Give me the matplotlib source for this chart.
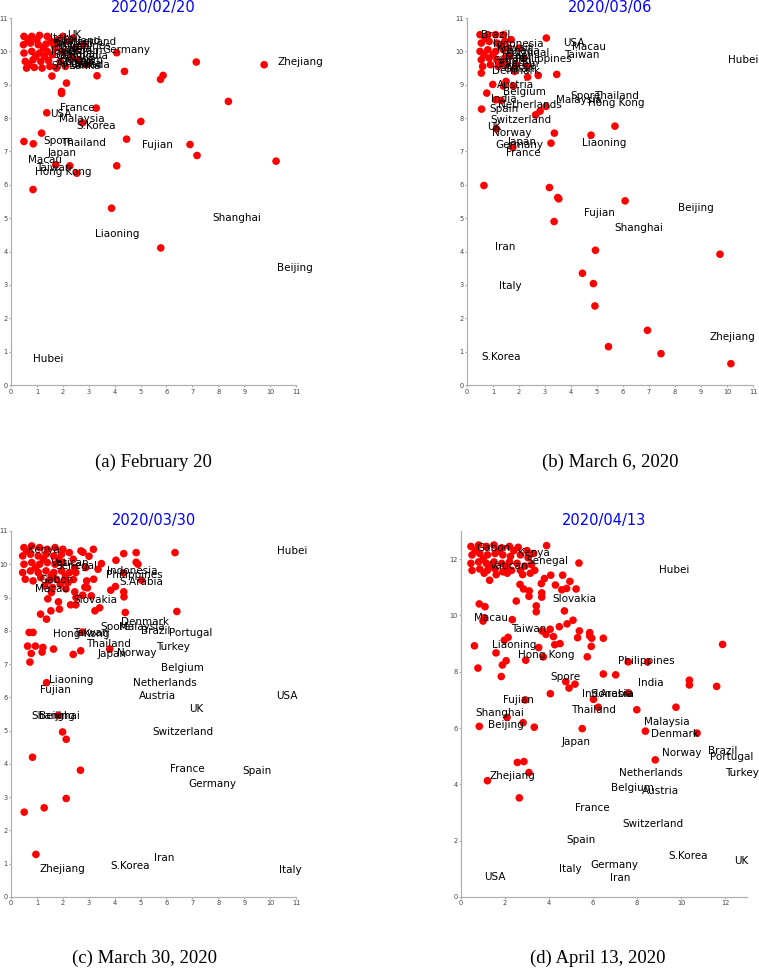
import matplotlib
matplotlib.use('Agg')
import matplotlib.pyplot as plt
from matplotlib import font_manager

# --- fonts ---
names = set(f.name for f in font_manager.fontManager.ttflist)
if 'Liberation Sans Narrow' in names:
    LAB_FONT = 'Liberation Sans Narrow'
    LAB_SIZE = 9.5
else:
    LAB_FONT = 'DejaVu Sans'
    LAB_SIZE = 7.5
CAP_FONT = 'Liberation Serif'

# ---------------- (a) 2020/02/20 ----------------
a_x = [0.5, 0.8, 1.1, 1.4, 0.48, 0.75, 1.05, 1.35, 1.55, 0.5, 0.8, 1.1, 1.4, 0.55,
       0.85, 1.15, 1.45, 0.6, 0.9, 1.2, 1.5, 0.65, 0.95, 1.25, 0.7, 1.3, 1.0, 1.6,
       1.7, 1.8, 1.9, 2.0, 2.2, 2.3, 2.5, 1.75, 2.1, 2.6, 2.9, 2.4, 2.8, 2.0, 1.65,
       4.08, 7.15, 9.77, 4.38, 1.58, 3.32, 5.77, 5.87, 2.14, 1.95, 1.95, 8.39, 3.29,
       1.38, 5.01, 2.76, 1.18, 4.46, 0.5, 0.86, 6.91, 7.18, 10.23, 4.08, 2.27, 1.73,
       2.54, 0.85, 3.88, 5.78]
a_y = [10.45, 10.45, 10.48, 10.45, 10.2, 10.25, 10.2, 10.22, 10.3, 9.95, 10.0, 9.95,
       10.0, 9.7, 9.75, 9.7, 9.72, 9.5, 9.52, 9.5, 9.55, 10.35, 9.85, 10.1, 9.6, 9.85,
       10.35, 9.9, 10.1, 10.35, 9.7, 10.0, 10.3, 9.8, 10.1, 9.5, 9.55, 9.75, 9.6,
       10.4, 10.2, 10.45, 10.2,
       9.96, 9.68, 9.60, 9.40, 9.26, 9.27, 9.16, 9.28, 9.05, 8.80, 8.74, 8.50, 8.30,
       8.16, 7.90, 7.86, 7.55, 7.37, 7.30, 7.23, 7.21, 6.88, 6.71, 6.57, 6.57, 6.60,
       6.35, 5.86, 5.30, 4.11]
a_names = ['UK', 'Switzerland', 'Philippines', 'Germany', 'Italy', 'Finland', 'Sweden',
           'Russia', 'India', 'Nepal', 'Canada', 'Cambodia', 'Belgium', 'Egypt', 'UAE',
           'Sri Lanka', 'Australia', 'Vietnam', 'Spain', 'Iran',
           'Zhejiang', 'France', 'USA', 'Malaysia', 'S.Korea', 'Spore', 'Thailand',
           'Fujian', 'Japan', 'Macau', 'Taiwan', 'Hong Kong', 'Shanghai', 'Liaoning',
           'Beijing', 'Hubei']
a_lx = [2.18, 1.72, 1.65, 3.53, 1.5, 2.0, 1.6, 1.8, 1.55, 2.2, 2.3, 1.7, 1.9, 2.1, 2.4,
        1.6, 1.75, 1.9, 1.65, 2.25,
        10.3, 1.9, 1.51, 1.86, 2.54, 1.26, 1.92, 5.06, 1.41, 0.64, 0.96, 0.94, 7.77,
        3.24, 10.26, 0.83]
a_ly = [10.5, 10.28, 10.15, 10.05, 10.4, 10.32, 10.22, 10.08, 9.98, 9.92, 9.6, 9.85,
        9.75, 9.68, 9.72, 9.55, 9.62, 10.0, 9.9, 10.12,
        9.68, 8.31, 8.13, 7.97, 7.75, 7.30, 7.25, 7.20, 6.95, 6.73, 6.51, 6.40, 5.01,
        4.54, 3.51, 0.79]

# ---------------- (b) 2020/03/06 ----------------
b_x = [0.5, 0.8, 1.1, 1.4, 0.55, 0.85, 1.15, 1.45, 0.5, 0.8, 1.1, 1.4, 0.55, 0.85,
       1.15, 1.45, 0.6, 0.9, 1.2, 1.5, 0.7, 1.0, 1.3, 0.65, 1.3, 1.6, 1.65, 1.7, 1.9,
       2.0, 1.8, 0.55, 2.2, 2.3,
       3.05, 3.45, 2.74, 2.33, 1.83, 0.99, 1.5, 1.78, 1.40, 0.76, 0.56, 1.31, 1.1,
       2.64, 2.81, 3.04, 3.36, 3.23, 4.77, 5.69, 1.13, 1.76, 0.65, 3.17, 3.49, 3.53,
       6.08, 3.35, 4.94, 9.73, 4.44, 4.86, 4.92, 6.94, 5.44, 7.46, 10.15]
b_y = [10.5, 10.5, 10.5, 10.5, 10.25, 10.3, 10.25, 10.3, 10.0, 10.05, 10.0, 10.05,
       9.75, 9.8, 9.75, 9.8, 9.55, 9.6, 9.55, 9.6, 10.4, 9.9, 10.15, 9.9, 9.65, 10.1,
       9.85, 10.35, 9.6, 10.1, 9.45, 9.35, 9.8, 9.55,
       10.40, 9.31, 9.28, 9.23, 9.40, 9.01, 9.10, 8.96, 8.96, 8.75, 8.27, 8.53, 8.55,
       8.10, 8.21, 8.35, 7.55, 7.25, 7.49, 7.76, 7.68, 7.12, 5.98, 5.92, 5.62, 5.58,
       5.52, 4.90, 4.04, 3.92, 3.35, 3.04, 2.37, 1.64, 1.15, 0.94, 0.64]
b_names = ['Brazil', 'Indonesia', 'Kuwait', 'Canada', 'Portugal', 'Israel', 'Iraq',
           'Bahrain', 'Greece', 'Finland', 'Oman', 'Philippines',
           'USA', 'Macau', 'Taiwan', 'Hubei', 'Denmark', 'Austria', 'Belgium', 'India',
           'Netherlands', 'Malaysia', 'Spore', 'Thailand', 'Hong Kong', 'Spain',
           'Switzerland', 'UK', 'Norway', 'Japan', 'Germany', 'France', 'Liaoning',
           'Fujian', 'Beijing', 'Shanghai', 'Iran', 'Italy', 'Zhejiang', 'S.Korea']
b_lx = [0.55, 1.01, 1.15, 1.3, 1.5, 1.35, 1.45, 1.2, 1.25, 1.05, 1.4, 1.85,
        3.68, 4.03, 3.74, 10.03, 0.95, 1.14, 1.40, 0.92, 1.21, 3.41, 3.96, 4.88, 4.67,
        0.86, 0.88, 0.76, 0.95, 1.56, 1.10, 1.5, 4.41, 4.5, 8.13, 5.67, 1.09, 1.24,
        9.32, 0.55]
b_ly = [10.5, 10.23, 10.1, 10.0, 9.95, 9.87, 9.8, 9.62, 9.55, 9.72, 9.48, 9.77,
        10.25, 10.13, 9.90, 9.73, 9.40, 8.98, 8.78, 8.56, 8.40, 8.55, 8.66, 8.66, 8.46,
        8.28, 7.95, 7.73, 7.55, 7.29, 7.19, 6.95, 7.26, 5.17, 5.32, 4.72, 4.13, 2.98,
        1.45, 0.84]

# ---------------- (c) 2020/03/30 ----------------
c_x = [0.5, 0.8, 1.1, 1.4, 1.7, 2.0, 0.45, 0.75, 1.05, 1.35, 1.65, 1.95, 2.25, 0.5,
       0.8, 1.1, 1.4, 1.7, 2.0, 0.45, 0.75, 1.05, 1.35, 1.65, 1.95, 2.25, 0.55, 0.85,
       1.15, 1.45, 1.75, 2.05, 0.6, 0.95, 1.25, 1.55, 1.85, 2.1, 2.4, 2.5, 1.3, 1.6,
       1.9, 2.2,
       6.33, 4.83, 4.35, 3.18, 2.70, 2.78, 3.01, 4.05, 3.49, 3.36, 4.83, 4.90, 2.88,
       2.46, 2.41, 2.92, 3.19, 2.85, 2.95, 2.12, 1.56, 2.46, 4.03, 3.85, 4.35, 4.36,
       4.35, 5.04, 1.42, 1.83, 2.51, 2.30, 2.50, 2.77, 3.10, 1.87, 1.54, 3.42, 3.24,
       4.41, 6.40, 1.14, 1.37, 0.70, 0.85, 0.64, 0.94, 1.23, 1.20, 0.78, 1.64, 2.40,
       2.69, 0.73, 3.81, 2.76, 1.37, 1.83, 1.99, 2.13, 0.83, 2.68, 2.13, 1.28, 0.51,
       0.96]
c_y = [10.5, 10.55, 10.5, 10.45, 10.5, 10.45, 10.25, 10.3, 10.25, 10.3, 10.25, 10.3,
       10.35, 10.0, 10.05, 10.0, 10.05, 10.0, 10.05, 9.75, 9.8, 9.75, 9.8, 9.75, 9.8,
       9.75, 9.55, 9.5, 9.6, 9.5, 9.55, 9.5, 10.4, 9.9, 10.15, 9.65, 10.15, 9.65,
       10.15, 9.75, 9.35, 9.3, 9.4, 9.45,
       10.35, 10.35, 10.32, 10.45, 10.40, 10.36, 10.24, 10.12, 10.02, 9.85, 10.06,
       10.0, 9.90, 9.90, 9.54, 9.50, 9.55, 9.31, 9.29, 9.26, 9.15, 9.17, 9.33, 9.22,
       9.17, 9.02, 9.74, 9.52, 8.96, 8.87, 9.00, 8.78, 8.78, 9.07, 9.05, 8.65, 8.60,
       8.69, 8.60, 8.55, 8.58, 8.50, 8.35, 7.95, 7.95, 7.54, 7.54, 7.50, 7.36, 7.32,
       7.45, 7.29, 7.40, 7.06, 7.45, 7.96, 6.44, 5.46, 4.96, 4.74, 4.20, 3.81, 2.96,
       2.68, 2.55, 1.28]
c_names = ['Kenya', 'Vatican', 'Senegal', 'Gabon', 'Macau', 'Hubei', 'Indonesia',
           'Philippines', 'S.Arabia', 'Slovakia', 'Denmark', 'Spore', 'Malaysia',
           'Brazil', 'Portugal', 'Hong Kong', 'Taiwan', 'Thailand', 'Turkey', 'Japan',
           'Norway', 'Belgium', 'Liaoning', 'Netherlands', 'Fujian', 'Austria', 'USA',
           'UK', 'Shanghai', 'Beijing', 'Switzerland', 'France', 'Spain', 'Germany',
           'Iran', 'S.Korea', 'Zhejiang', 'Italy']
c_lx = [0.64, 1.55, 1.7, 1.09, 0.94, 10.28, 3.72, 3.67, 4.19, 2.40, 4.26, 3.46, 4.17,
        5.0, 6.09, 1.64, 2.40, 2.88, 5.58, 3.33, 4.1, 5.8, 1.45, 4.71, 1.12, 4.95,
        10.24, 6.87, 0.8, 1.09, 5.47, 6.15, 8.92, 6.83, 5.5, 3.85, 1.09, 10.36]
c_ly = [10.42, 10.05, 9.95, 9.52, 9.27, 10.39, 9.79, 9.67, 9.47, 8.94, 8.27, 8.12,
        8.10, 7.98, 7.94, 7.90, 7.93, 7.60, 7.50, 7.30, 7.33, 6.88, 6.53, 6.43, 6.21,
        6.04, 6.03, 5.64, 5.44, 5.44, 4.96, 3.86, 3.80, 3.39, 1.17, 0.94, 0.83, 0.81]

# ---------------- (d) 2020/04/13 ----------------
d_x = [0.45, 0.8, 1.15, 1.5, 1.85, 2.2, 2.6, 3.0, 0.5, 0.85, 1.2, 1.55, 1.9, 2.25,
       2.7, 3.05, 0.45, 0.8, 1.15, 1.5, 1.85, 2.2, 2.55, 2.9, 3.2, 0.5, 0.85, 1.2,
       1.55, 1.9, 2.3, 2.7, 3.15, 0.65, 1.0, 1.35, 1.7, 2.05, 2.4, 3.3, 1.05, 1.6,
       2.1, 2.8, 3.35,
       3.89, 5.36, 4.62, 4.08, 4.95, 3.79, 4.29, 4.58, 4.80, 5.23, 3.65, 2.68, 2.84,
       3.10, 3.09, 3.67, 3.67, 1.30, 2.51, 0.83, 1.09, 3.42, 3.42, 4.70, 1.06, 1.0,
       2.33, 5.09, 4.82, 4.47, 4.05, 5.38, 3.68, 3.86, 4.20, 5.85, 5.85, 5.30, 5.94,
       6.47, 2.14, 1.97, 4.26, 4.50, 5.92, 0.61, 3.53, 1.59, 3.74, 2.94, 2.05, 5.74,
       11.89, 8.48, 7.60, 0.77, 1.88, 1.83, 6.47, 7.03, 10.38, 10.38, 11.62, 4.76,
       5.18, 4.91, 4.06, 7.61, 6.02, 2.92, 6.24, 7.99, 9.77, 2.09, 0.83, 2.82, 3.33,
       5.51, 8.38, 10.73, 8.83, 2.56, 2.86, 3.09, 1.20, 2.65]
d_y = [12.45, 12.5, 12.45, 12.5, 12.4, 12.45, 12.42, 12.3, 12.15, 12.2, 12.15, 12.2,
       12.15, 12.1, 12.15, 12.05, 11.85, 11.9, 11.85, 11.9, 11.85, 11.9, 11.85, 11.75,
       11.8, 11.6, 11.65, 11.6, 11.65, 11.55, 11.6, 11.6, 11.5, 12.3, 12.0, 11.75,
       12.3, 11.7, 12.3, 12.2, 11.5, 11.45, 11.5, 11.45, 11.6,
       12.48, 11.86, 11.43, 11.43, 11.21, 11.31, 11.08, 10.91, 10.96, 10.94, 11.13,
       11.10, 10.94, 10.87, 10.68, 10.80, 10.65, 11.25, 10.51, 10.41, 10.31, 10.34,
       10.13, 10.16, 9.92, 9.80, 9.85, 9.83, 9.70, 9.60, 9.51, 9.45, 9.45, 9.33, 9.25,
       9.39, 9.27, 9.21, 9.19, 9.19, 9.22, 9.12, 8.96, 9.00, 8.90, 8.92, 8.86, 8.67,
       8.53, 8.41, 8.39, 8.53, 8.97, 8.35, 8.35, 8.13, 8.24, 7.83, 7.92, 7.89, 7.70,
       7.53, 7.48, 7.65, 7.56, 7.42, 7.22, 7.25, 7.02, 7.00, 6.74, 6.65, 6.74, 6.38,
       6.06, 6.19, 6.03, 5.98, 5.89, 5.82, 4.87, 4.78, 4.81, 4.42, 4.13, 3.52]
d_names = ['Gabon', 'Kenya', 'Senegal', 'Vatican', 'Hubei', 'Slovakia', 'Macau',
           'Taiwan', 'Liaoning', 'Hong Kong', 'Philippines', 'Spore', 'India',
           'Indonesia', 'S.Arabia', 'Fujian', 'Thailand', 'Shanghai', 'Beijing',
           'Malaysia', 'Denmark', 'Japan', 'Norway', 'Brazil', 'Portugal', 'Turkey',
           'Netherlands', 'Zhejiang', 'Belgium', 'Austria', 'France', 'Switzerland',
           'Spain', 'S.Korea', 'UK', 'Germany', 'Italy', 'Iran', 'USA']
d_lx = [0.71, 2.61, 2.95, 1.32, 9.01, 4.17, 0.59, 2.27, 1.39, 2.58, 7.15, 4.05, 8.03,
        5.48, 5.9, 1.92, 5.0, 0.65, 1.24, 8.32, 8.62, 4.59, 9.12, 11.24, 11.32, 12.0,
        7.2, 1.29, 6.8, 8.21, 5.18, 7.35, 4.80, 9.41, 12.41, 5.89, 4.47, 6.77, 1.03]
d_ly = [12.38, 12.22, 11.95, 11.75, 11.61, 10.59, 9.91, 9.53, 8.94, 8.60, 8.38, 7.82,
        7.59, 7.20, 7.20, 7.01, 6.65, 6.54, 6.12, 6.21, 5.78, 5.50, 5.11, 5.18, 4.97,
        4.41, 4.39, 4.28, 3.87, 3.75, 3.15, 2.58, 2.04, 1.44, 1.29, 1.14, 1.01, 0.66,
        0.72]

panels = [
    ('2020/02/20', '(a) February 20', a_x, a_y, a_names, a_lx, a_ly, 11, 11),
    ('2020/03/06', '(b) March 6, 2020', b_x, b_y, b_names, b_lx, b_ly, 11, 11),
    ('2020/03/30', '(c) March 30, 2020', c_x, c_y, c_names, c_lx, c_ly, 11, 11),
    ('2020/04/13', '(d) April 13, 2020', d_x, d_y, d_names, d_lx, d_ly, 13, 13),
]

# axes rectangles in figure fractions (left, bottom, width, height)
rects = [
    (0.0145, 0.6071, 0.3755, 0.3745),
    (0.6153, 0.6071, 0.3768, 0.3745),
    (0.0145, 0.0847, 0.3755, 0.3735),
    (0.6074, 0.0847, 0.3768, 0.3735),
]
cap_pos = [(0.2016, 0.528), (0.8037, 0.528), (0.19, 0.022), (0.787, 0.022)]

fig = plt.figure(figsize=(7.59, 9.80), dpi=100)
grey = '#b0b0b0'

for (title, cap, xs, ys, nm, lx, ly, xmax, ymax), r, cp in zip(panels, rects, cap_pos):
    ax = fig.add_axes(r)
    ax.scatter(xs, ys, s=30, color='#ff0000', edgecolors='none', zorder=2)
    for n, tx, ty in zip(nm, lx, ly):
        ax.text(tx, ty, n, ha='left', va='center', family=LAB_FONT,
                fontsize=LAB_SIZE, color='black', zorder=3)
    ax.set_xlim(0, xmax)
    ax.set_ylim(0, ymax)
    if xmax == 13:
        ax.set_xticks(range(0, 13, 2))
        ax.set_yticks(range(0, 13, 2))
    else:
        ax.set_xticks(range(0, 12))
        ax.set_yticks(range(0, 12))
    for s in ['top', 'right']:
        ax.spines[s].set_visible(False)
    for s in ['left', 'bottom']:
        ax.spines[s].set_color(grey)
        ax.spines[s].set_linewidth(0.9)
    ax.tick_params(colors=grey, length=1.5, width=0.8, labelsize=4.8, pad=1,
                   labelcolor='#444444')
    for lab in ax.get_xticklabels() + ax.get_yticklabels():
        lab.set_family(LAB_FONT)
    ax.set_title(title, color='#0000ff', fontsize=10.5, family=LAB_FONT, pad=4)
    fig.text(cp[0], cp[1], cap, ha='center', va='center', family=CAP_FONT,
             fontsize=13.5)

fig.savefig('out.png', dpi=100)
